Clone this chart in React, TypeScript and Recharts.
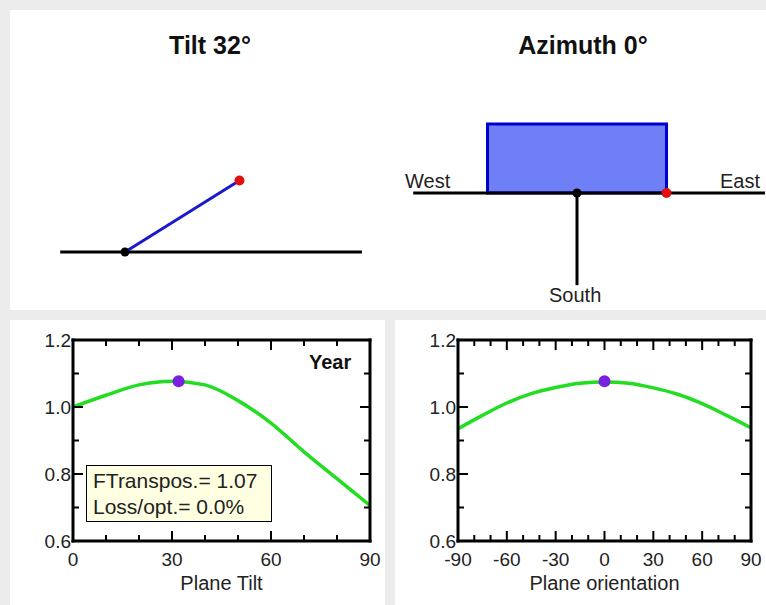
import React from "react";
import {
  ComposedChart,
  Line,
  XAxis,
  YAxis,
  ReferenceLine,
  ReferenceDot,
  ReferenceArea,
} from "recharts";

// plane orientation shown in the top diagrams
const planeTilt = 32;
const planeAzimuth = 0;

// transposition factor vs plane tilt (yearly)
const tiltAngles = [0, 10, 20, 30, 40, 50, 60, 70, 80, 90];
const tiltFactor = [1.0, 1.035, 1.066, 1.077, 1.066, 1.019, 0.952, 0.866, 0.786, 0.706];
const tiltTicks = [0, 10, 20, 30, 40, 50, 60, 70, 80, 90];
const tiltLabels = [0, 30, 60, 90];

// transposition factor vs plane orientation
const azimuthAngles = [-90, -75, -60, -45, -30, -15, 0, 15, 30, 45, 60, 75, 90];
const azimuthFactor = [0.935, 0.975, 1.012, 1.04, 1.058, 1.071, 1.075, 1.071, 1.057, 1.038, 1.01, 0.975, 0.938];
const azimuthTicks = [-90, -80, -70, -60, -50, -40, -30, -20, -10, 0, 10, 20, 30, 40, 50, 60, 70, 80, 90];
const azimuthLabels = [-90, -60, -30, 0, 30, 60, 90];

const factorTicks = [0.6, 0.7, 0.8, 0.9, 1.0, 1.1, 1.2];
const factorLabels = [0.6, 0.8, 1.0, 1.2];

const optimumFactor = 1.077;
const infoLines = ["FTranspos.= 1.07", "Loss/opt.= 0.0%"];

const tiltData = tiltAngles.map((x, i) => ({ x, v: tiltFactor[i] }));
const azimuthData = azimuthAngles.map((x, i) => ({ x, v: azimuthFactor[i] }));

const FONT = '"Liberation Sans", Arial, sans-serif';
const GREEN = "#22dd22";
const PURPLE = "#7b1fe0";
const frame = { stroke: "#000", strokeWidth: 3, strokeLinecap: "square" as const };

function AxisTick(props: any) {
  const { x, y, payload, side, labels, digits } = props;
  const v = payload.value;
  const major = labels.includes(v);
  const len = major ? 10 : 6;
  const txt = digits ? v.toFixed(digits) : String(v);
  const textProps = { fill: "#222", fontSize: 19, fontFamily: FONT };
  if (side === "bottom") {
    return (
      <g>
        <line x1={x} y1={y} x2={x} y2={y - len} stroke="#000" strokeWidth={2} />
        {major && (
          <text x={x} y={y + 25} textAnchor="middle" {...textProps}>
            {txt}
          </text>
        )}
      </g>
    );
  }
  if (side === "top") {
    return <line x1={x} y1={y} x2={x} y2={y + len} stroke="#000" strokeWidth={2} />;
  }
  if (side === "left") {
    return (
      <g>
        <line x1={x} y1={y} x2={x + len} y2={y} stroke="#000" strokeWidth={2} />
        {major && (
          <text x={x - 2} y={y + 7} textAnchor="end" {...textProps}>
            {txt}
          </text>
        )}
      </g>
    );
  }
  return <line x1={x} y1={y} x2={x - len} y2={y} stroke="#000" strokeWidth={2} />;
}

function FactorChart(props: {
  data: { x: number; v: number }[];
  domain: [number, number];
  ticks: number[];
  labels: number[];
  optimumX: number;
  title: string;
  width: number;
}) {
  const { data, domain, ticks, labels, optimumX, title, width } = props;
  return (
    <ComposedChart
      width={width}
      height={285}
      data={data}
      margin={{ top: 15, right: 10, bottom: 14, left: 0 }}
    >
      <XAxis
        xAxisId="b"
        type="number"
        dataKey="x"
        domain={domain}
        ticks={ticks}
        interval={0}
        height={50}
        axisLine={frame}
        tickLine={false}
        tickSize={0}
        tickMargin={0}
        tick={(p: any) => <AxisTick {...p} side="bottom" labels={labels} />}
        label={{ value: title, position: "insideBottom", offset: 1, fill: "#222", fontSize: 20, fontFamily: FONT }}
      />
      <XAxis
        xAxisId="t"
        orientation="top"
        type="number"
        dataKey="x"
        domain={domain}
        ticks={ticks}
        interval={0}
        height={5}
        axisLine={frame}
        tickLine={false}
        tickSize={0}
        tickMargin={0}
        tick={(p: any) => <AxisTick {...p} side="top" labels={labels} />}
      />
      <YAxis
        yAxisId="l"
        type="number"
        domain={[0.6, 1.2]}
        ticks={factorTicks}
        interval={0}
        width={63}
        axisLine={frame}
        tickLine={false}
        tickSize={0}
        tickMargin={0}
        tick={(p: any) => <AxisTick {...p} side="left" labels={factorLabels} digits={1} />}
      />
      <YAxis
        yAxisId="r"
        orientation="right"
        type="number"
        domain={[0.6, 1.2]}
        ticks={factorTicks}
        interval={0}
        width={5}
        axisLine={frame}
        tickLine={false}
        tickSize={0}
        tickMargin={0}
        tick={(p: any) => <AxisTick {...p} side="right" labels={factorLabels} />}
      />
      <Line
        xAxisId="b"
        yAxisId="l"
        type="monotone"
        dataKey="v"
        stroke={GREEN}
        strokeWidth={3.5}
        dot={false}
        isAnimationActive={false}
      />
      <Line
        xAxisId="t"
        yAxisId="r"
        type="monotone"
        dataKey="v"
        stroke="none"
        dot={false}
        isAnimationActive={false}
      />
      <ReferenceDot xAxisId="b" yAxisId="l" x={optimumX} y={optimumFactor} r={6} fill={PURPLE} stroke="none" />
    </ComposedChart>
  );
}

// tilt side view: pivot at origin, panel length = 1 unit
function TiltDiagram() {
  const U = 135;
  const W = 380;
  const H = 310;
  const px = 125;
  const py = 252;
  const a = (planeTilt * Math.PI) / 180;
  const tip = { x: Math.cos(a), v: Math.sin(a) };
  return (
    <ComposedChart width={W} height={H} data={[{ x: 0, v: 0 }, tip]} margin={{ top: 0, right: 0, bottom: 0, left: 0 }}>
      <XAxis type="number" dataKey="x" domain={[-px / U, (W - px) / U]} hide allowDataOverflow />
      <YAxis type="number" domain={[-(H - py) / U, py / U]} hide allowDataOverflow />
      <ReferenceLine segment={[{ x: -0.48, y: 0 }, { x: 1.755, y: 0 }]} stroke="#000" strokeWidth={3} />
      <ReferenceLine segment={[{ x: 0, y: 0 }, { x: tip.x, y: tip.v }]} stroke="#1a1acc" strokeWidth={3} />
      <ReferenceDot x={0} y={0} r={4.5} fill="#000" stroke="none" />
      <ReferenceDot x={tip.x} y={tip.v} r={5} fill="#e01010" stroke="none" />
    </ComposedChart>
  );
}

// azimuth top view: panel half-width = 1 unit
function AzimuthDiagram() {
  const U = 89.5;
  const W = 386;
  const H = 310;
  const px = 197;
  const py = 193;
  const a = (planeAzimuth * Math.PI) / 180;
  const edge = { x: Math.cos(a), v: Math.sin(a) };
  return (
    <ComposedChart width={W} height={H} data={[{ x: 0, v: 0 }, edge]} margin={{ top: 0, right: 0, bottom: 0, left: 0 }}>
      <XAxis type="number" dataKey="x" domain={[-px / U, (W - px) / U]} hide allowDataOverflow />
      <YAxis type="number" domain={[-(H - py) / U, py / U]} hide allowDataOverflow />
      <ReferenceLine segment={[{ x: -1.83, y: 0 }, { x: 2.1, y: 0 }]} stroke="#000" strokeWidth={3} />
      <ReferenceArea x1={-1} x2={1} y1={0} y2={0.77} fill="#6f7ff5" fillOpacity={1} stroke="#0000cc" strokeWidth={3} />
      <ReferenceLine segment={[{ x: 0, y: 0 }, { x: 0, y: -1.03 }]} stroke="#000" strokeWidth={3} />
      <ReferenceDot x={0} y={0} r={4.5} fill="#000" stroke="none" />
      <ReferenceDot x={edge.x} y={edge.v} r={5} fill="#e01010" stroke="none" />
    </ComposedChart>
  );
}

const abs = (left: number, top: number, extra: React.CSSProperties = {}): React.CSSProperties => ({
  position: "absolute",
  left,
  top,
  ...extra,
});

export default function App() {
  const label: React.CSSProperties = { fontFamily: FONT, fontSize: 20, color: "#222", lineHeight: "22px" };
  const title: React.CSSProperties = { fontFamily: FONT, fontSize: 25, fontWeight: "bold", color: "#111", lineHeight: "28px" };
  return (
    <div style={abs(0, 0, { width: 766, height: 605, background: "#ececec", overflow: "hidden" })}>
      {/* top panel */}
      <div style={abs(10, 10, { width: 760, height: 300, background: "#fff" })} />
      <div style={abs(0, 0)}>
        <TiltDiagram />
      </div>
      <div style={abs(380, 0)}>
        <AzimuthDiagram />
      </div>
      <div style={abs(110, 31, { ...title, width: 200, textAlign: "center" })}>Tilt {planeTilt}°</div>
      <div style={abs(483, 31, { ...title, width: 200, textAlign: "center" })}>Azimuth {planeAzimuth}°</div>
      <div style={abs(405, 170, label)}>West</div>
      <div style={abs(720, 170, label)}>East</div>
      <div style={abs(549, 284, label)}>South</div>

      {/* bottom-left: tilt */}
      <div style={abs(10, 320, { width: 375, height: 285, background: "#fff" })}>
        <FactorChart
          data={tiltData}
          domain={[0, 90]}
          ticks={tiltTicks}
          labels={tiltLabels}
          optimumX={planeTilt}
          title="Plane Tilt"
          width={375}
        />
        <div style={abs(299, 31, { fontFamily: FONT, fontSize: 20, fontWeight: "bold", color: "#111" })}>Year</div>
        <div
          style={abs(76, 145, {
            width: 186,
            height: 57,
            background: "#ffffe1",
            border: "1px solid #000",
            fontFamily: FONT,
            fontSize: 21,
            lineHeight: "26px",
            color: "#222",
            paddingLeft: 6,
            boxSizing: "border-box",
            paddingTop: 2,
            whiteSpace: "nowrap",
            overflow: "hidden",
          })}
        >
          {infoLines.map((t) => (
            <div key={t}>{t}</div>
          ))}
        </div>
      </div>

      {/* bottom-right: orientation */}
      <div style={abs(395, 320, { width: 371, height: 285, background: "#fff" })}>
        <FactorChart
          data={azimuthData}
          domain={[-90, 90]}
          ticks={azimuthTicks}
          labels={azimuthLabels}
          optimumX={planeAzimuth}
          title="Plane orientation"
          width={371}
        />
      </div>
    </div>
  );
}
